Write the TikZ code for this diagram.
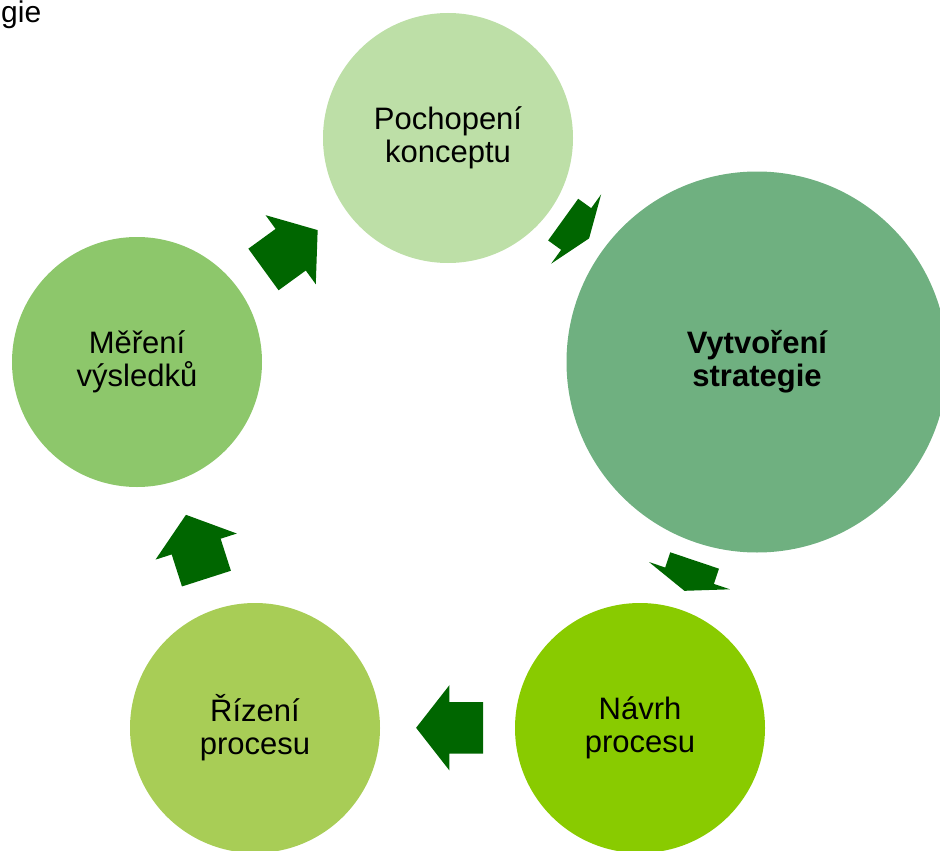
\documentclass[tikz,border=0pt]{standalone}
\usepackage{fontspec}
\setmainfont{Liberation Sans}
\usetikzlibrary{shapes.arrows}
\definecolor{paleleaf}{RGB}{189,223,167}
\definecolor{sagegreen}{RGB}{111,176,128}
\definecolor{grassgreen}{RGB}{141,199,107}
\definecolor{olivegreen}{RGB}{168,205,86}
\definecolor{limegreen}{RGB}{137,203,0}
\definecolor{arrowgreen}{RGB}{0,102,0}

\begin{document}
\begin{tikzpicture}[x=1pt, y=-1pt,
  stage/.style={circle, fill=#1, minimum size=250pt, inner sep=0pt, align=center,
    font=\fontsize{31}{33}\selectfont},
  flow/.style={single arrow, fill=arrowgreen, inner xsep=0pt, inner ysep=25.5pt,
    single arrow head extend=17pt, anchor=tail},
  longflow/.style={flow, minimum height=67pt, single arrow tip angle=104},
  shortflow/.style={flow, minimum height=32pt, single arrow tip angle=139}]
  \useasboundingbox (0,0) rectangle (940,851);
  \clip (0,0) rectangle (940,851);

  % Cut-off title
  \node[anchor=base west, inner sep=0pt, font=\fontsize{30}{33}\selectfont] (title) at (1,23) {gie};

  % Cycle stages
  \node[stage=paleleaf] (concept) at (448,138) {Pochopení\\konceptu};
  \node[stage=sagegreen, minimum size=381pt, font=\fontsize{31}{33}\selectfont\bfseries] (strategy) at (757,362) {Vytvoření\\strategie};
  \node[stage=limegreen] (design) at (640,728) {Návrh\\procesu};
  \node[stage=olivegreen] (control) at (255,728) {Řízení\\procesu};
  \node[stage=grassgreen] (measure) at (137,362) {Měření\\výsledků};

  % Arrows between stages
  \node[shortflow, rotate=-35.8] (concept2strategy) at (563,219.5) {};
  \node[shortflow, rotate=-108.6] (strategy2design) at (694.7,560.3) {};
  \node[longflow, rotate=180] (design2control) at (483.3,727.8) {};
  \node[longflow, rotate=107.8] (control2measure) at (206.5,578.8) {};
  \node[longflow, rotate=36] (measure2concept) at (263.3,269.6) {};
\end{tikzpicture}
\end{document}
